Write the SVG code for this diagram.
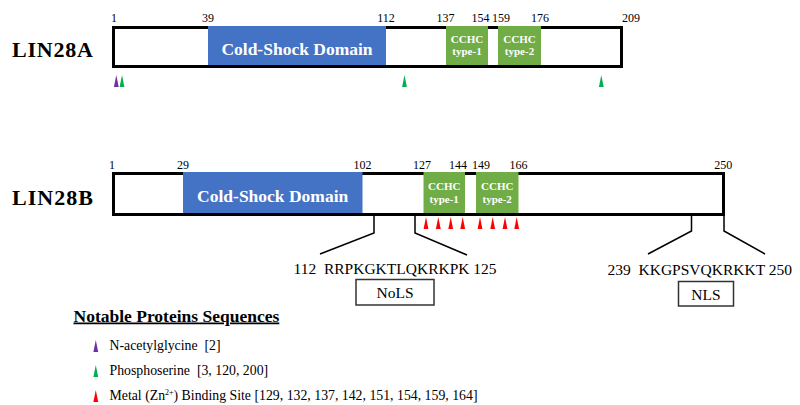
<svg xmlns="http://www.w3.org/2000/svg" width="800" height="405" viewBox="0 0 800 405">
<style>
.bar{fill:#fff;stroke:#000;stroke-width:3}
.csd{fill:#4472C4}
.cchc{fill:#70AD47}
.dt{font-family:"Liberation Serif","Times New Roman",serif;font-weight:bold;fill:#fff}
.num{font-family:"Liberation Serif","Times New Roman",serif;font-size:12px;fill:#000;text-anchor:middle}
.name{font-family:"Liberation Serif","Times New Roman",serif;font-size:22px;font-weight:bold;fill:#000}
.seq{font-family:"Liberation Serif","Times New Roman",serif;font-size:15.5px;fill:#000}
.lg{font-family:"Liberation Serif","Times New Roman",serif;font-size:13.8px;fill:#000}
.box{fill:#fff;stroke:#333;stroke-width:1.5}
.conn{fill:none;stroke:#000;stroke-width:1.5}
.pur{fill:#7030A0}
.grn{fill:#00B050}
.red{fill:#FF0000}
</style>
<defs>
<polygon id="tri" points="0,0 2.4,12 -2.4,12"/>
</defs>

<g id="lin28a">
<text class="name" x="12" y="57" textLength="81">LIN28A</text>
<rect class="bar" x="113.5" y="27.5" width="508" height="39"/>
<rect class="csd" x="208" y="26" width="178" height="39"/>
<text class="dt" x="297" y="55" font-size="17.5" text-anchor="middle">Cold-Shock Domain</text>
<rect class="cchc" x="446" y="26" width="42" height="39"/>
<text class="dt" x="467" y="42.5" font-size="11" text-anchor="middle">CCHC</text>
<text class="dt" x="467" y="55" font-size="11" text-anchor="middle">type-1</text>
<rect class="cchc" x="498" y="26" width="43" height="39"/>
<text class="dt" x="519.5" y="42.5" font-size="11" text-anchor="middle">CCHC</text>
<text class="dt" x="519.5" y="55" font-size="11" text-anchor="middle">type-2</text>
<text class="num" x="114" y="22">1</text>
<text class="num" x="208" y="22">39</text>
<text class="num" x="386" y="22">112</text>
<text class="num" x="445.5" y="22">137</text>
<text class="num" x="480.5" y="22">154</text>
<text class="num" x="501" y="22">159</text>
<text class="num" x="540" y="22">176</text>
<text class="num" x="631" y="22">209</text>
<use href="#tri" class="pur" x="116.3" y="75"/>
<use href="#tri" class="grn" x="122" y="75"/>
<use href="#tri" class="grn" x="404.5" y="75"/>
<use href="#tri" class="grn" x="601.3" y="75"/>
</g>

<g id="lin28b">
<text class="name" x="12" y="205" textLength="81">LIN28B</text>
<rect class="bar" x="113.5" y="173.5" width="610" height="41"/>
<rect class="csd" x="183" y="172" width="179.5" height="41"/>
<text class="dt" x="272.7" y="202" font-size="17.5" text-anchor="middle">Cold-Shock Domain</text>
<rect class="cchc" x="423.5" y="172" width="41.5" height="41"/>
<text class="dt" x="444.2" y="190" font-size="11" text-anchor="middle">CCHC</text>
<text class="dt" x="444.2" y="202.5" font-size="11" text-anchor="middle">type-1</text>
<rect class="cchc" x="476" y="172" width="42.5" height="41"/>
<text class="dt" x="497.2" y="190" font-size="11" text-anchor="middle">CCHC</text>
<text class="dt" x="497.2" y="202.5" font-size="11" text-anchor="middle">type-2</text>
<text class="num" x="112" y="169">1</text>
<text class="num" x="183" y="169">29</text>
<text class="num" x="362.5" y="169">102</text>
<text class="num" x="422" y="169">127</text>
<text class="num" x="458" y="169">144</text>
<text class="num" x="481" y="169">149</text>
<text class="num" x="518.5" y="169">166</text>
<text class="num" x="723.3" y="169">250</text>
<use href="#tri" class="red" x="426" y="217"/>
<use href="#tri" class="red" x="438.3" y="217"/>
<use href="#tri" class="red" x="450.7" y="217"/>
<use href="#tri" class="red" x="462.7" y="217"/>
<use href="#tri" class="red" x="480" y="217"/>
<use href="#tri" class="red" x="492.7" y="217"/>
<use href="#tri" class="red" x="505" y="217"/>
<use href="#tri" class="red" x="516.7" y="217"/>
</g>

<g id="connectors">
<polyline class="conn" points="374,216 374,233 320,254"/>
<polyline class="conn" points="415,216 415,233 467,255"/>
<polyline class="conn" points="691.5,216 691.5,231 648,254"/>
<polyline class="conn" points="724,216 724,231 765,254"/>
</g>

<g id="nols">
<text class="seq" x="293.5" y="273.5" xml:space="preserve">112  RRPKGKTLQKRKPK 125</text>
<rect class="box" x="356" y="279.5" width="78" height="25.5"/>
<text class="seq" x="395" y="298" text-anchor="middle">NoLS</text>
</g>

<g id="nls">
<text class="seq" x="607.5" y="274.5" xml:space="preserve">239  KKGPSVQKRKKT 250</text>
<rect class="box" x="678.5" y="281.5" width="55" height="24.5"/>
<text class="seq" x="706" y="300" text-anchor="middle">NLS</text>
</g>

<g id="legend">
<text x="73.5" y="321.5" font-family="Liberation Serif, Times New Roman, serif" font-size="17.5" font-weight="bold" text-decoration="underline">Notable Proteins Sequences</text>
<use href="#tri" class="pur" x="95.8" y="340"/>
<text class="lg" x="109.5" y="350" xml:space="preserve">N-acetylglycine  [2]</text>
<use href="#tri" class="grn" x="95.8" y="365"/>
<text class="lg" x="109.5" y="375" xml:space="preserve">Phosphoserine  [3, 120, 200]</text>
<use href="#tri" class="red" x="95.8" y="390"/>
<text class="lg" x="109.5" y="400">Metal (Zn<tspan font-size="8" dy="-5">2+</tspan><tspan dy="5">) Binding Site [129, 132, 137, 142, 151, 154, 159, 164]</tspan></text>
</g>
</svg>
